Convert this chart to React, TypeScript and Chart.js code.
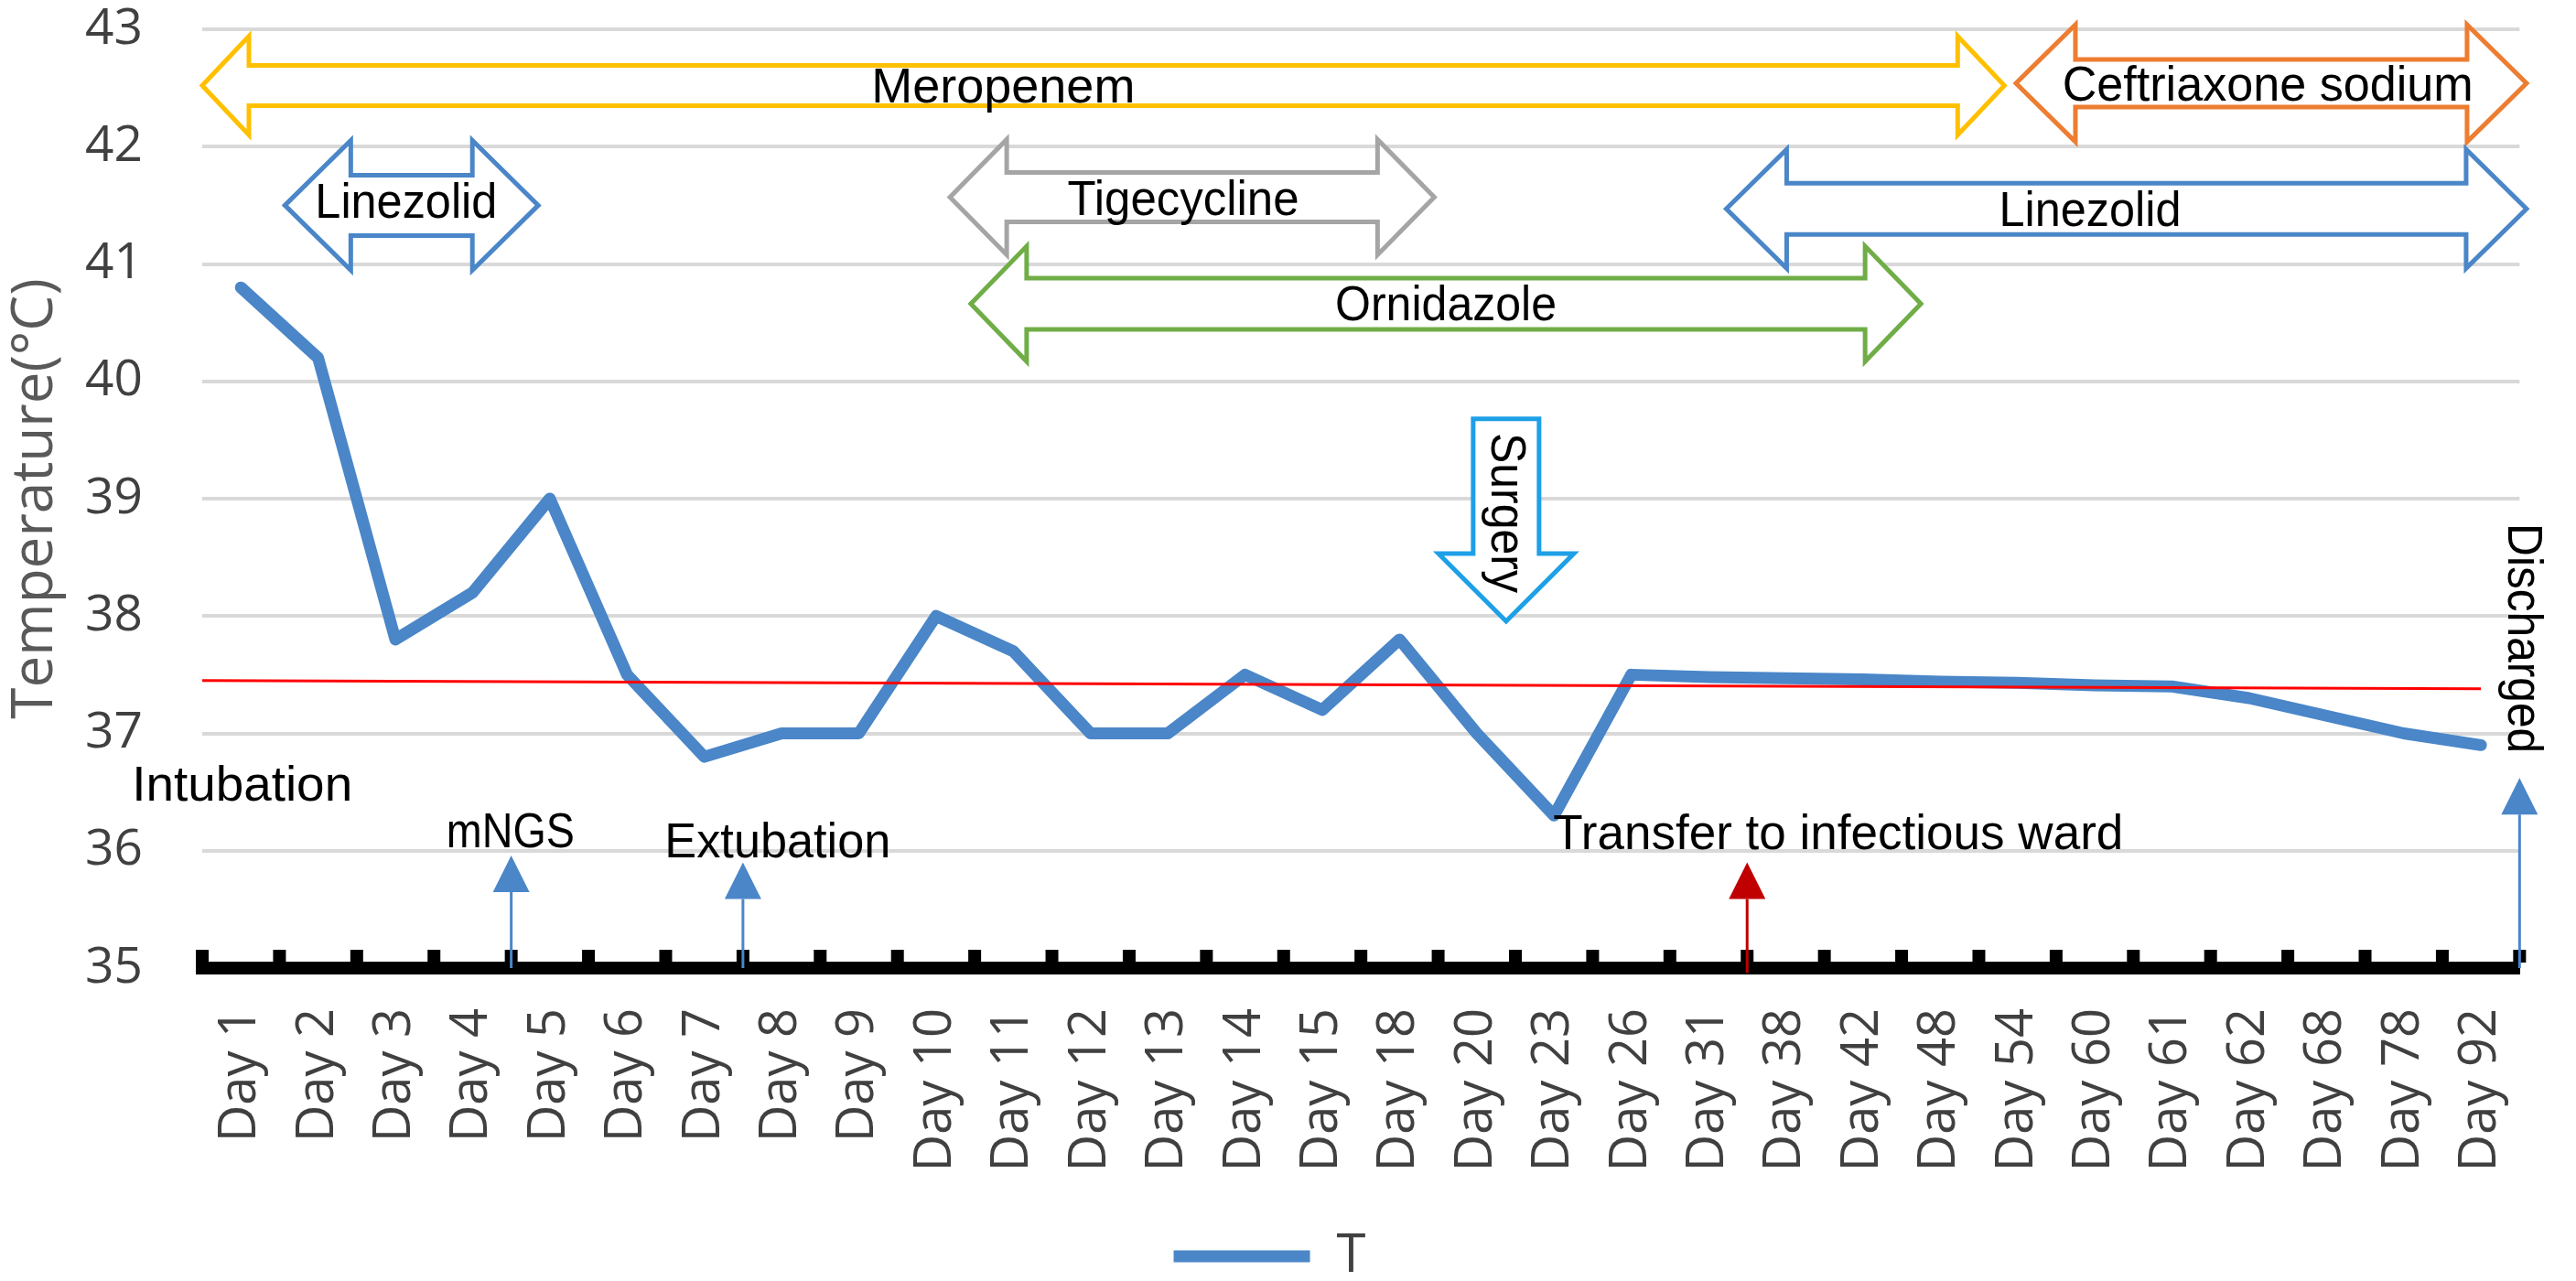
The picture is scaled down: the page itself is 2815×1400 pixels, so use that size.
import React, { useEffect, useRef } from 'react';
import { Chart, registerables } from 'chart.js';

Chart.register(...registerables);

// ---------- data ----------
const categories = [
  'Day 1', 'Day 2', 'Day 3', 'Day 4', 'Day 5', 'Day 6', 'Day 7', 'Day 8', 'Day 9', 'Day 10',
  'Day 11', 'Day 12', 'Day 13', 'Day 14', 'Day 15', 'Day 18', 'Day 20', 'Day 23', 'Day 26', 'Day 31',
  'Day 38', 'Day 42', 'Day 48', 'Day 54', 'Day 60', 'Day 61', 'Day 62', 'Day 68', 'Day 78', 'Day 92',
];
const temperatures = [
  40.8, 40.2, 37.8, 38.2, 39.0, 37.5, 36.8, 37.0, 37.0, 38.0,
  37.7, 37.0, 37.0, 37.5, 37.2, 37.8, 37.0, 36.3, 37.5, 37.48,
  37.47, 37.46, 37.44, 37.43, 37.41, 37.4, 37.3, 37.15, 37.0, 36.9,
];
const trendX = [-0.5, 29];
const trendY = [37.45, 37.38];
const yMin = 35;
const yMax = 43;
const yStep = 1;

// treatments (span in category-index units, level in °C)
const drugNames = ['Ornidazole', 'Meropenem', 'Ceftriaxone sodium', 'Linezolid', 'Tigecycline', 'Linezolid'];
const drugStart = [9.45, -0.5, 22.98, 0.57, 9.18, 19.23];
const drugEnd = [21.75, 22.83, 29.59, 3.85, 15.45, 29.59];
const drugLevel = [40.66, 42.52, 42.54, 41.5, 41.57, 41.47];

// events marked with small arrows (position between categories)
const eventNames = ['mNGS', 'Extubation', 'Transfer to infectious ward', 'Discharged'];
const eventPos = [3.5, 6.5, 19.5, 29.5];
const eventTip = [35.96, 35.9, 35.9, 36.62];
const otherNotes = ['Intubation', 'Surgery'];

// ---------- styles / annotation layout ----------
const drugStyle = [
  { color: '#70AD47', head: 61, hh: 63, sh: 28, tx: 15.6, ty: 40.52, tw: 242 },
  { color: '#FFC000', head: 51, hh: 54, sh: 22, tx: 9.87, ty: 42.38, tw: 288 },
  { color: '#ED7D31', head: 65, hh: 64, sh: 26, tx: 26.24, ty: 42.39, tw: 449 },
  { color: '#4A86C8', head: 72, hh: 71, sh: 33, tx: 2.14, ty: 41.39, tw: 199 },
  { color: '#A5A5A5', head: 62, hh: 63, sh: 27, tx: 12.2, ty: 41.42, tw: 253 },
  { color: '#4A86C8', head: 66, hh: 65, sh: 28, tx: 23.94, ty: 41.32, tw: 199 },
];
const eventStyle = [
  { color: '#4A86C8', tx: 3.49, ty: 36.03, tw: 140, rot: false, tail: 35 },
  { color: '#4A86C8', tx: 6.95, ty: 35.94, tw: 247, rot: false, tail: 35 },
  { color: '#C00000', tx: 20.68, ty: 36.01, tw: 623, rot: false, tail: 34.96 },
  { color: '#4A86C8', tx: 29.35, ty: 37.81, tw: 251, rot: true, tail: 35 },
];
const noteStyle = [
  { tx: 0.017, ty: 36.43, tw: 241, rot: false },
  { tx: 16.19, ty: 38.88, tw: 175, rot: true },
];
const surgery = { x: 16.38, top: 39.68, tip: 37.955, head: 74, hh: 74, sh: 36, color: '#1EA0E6' };

const ANN_FONT = '53px "Liberation Sans", Arial, sans-serif';

function drawFitText(ctx: CanvasRenderingContext2D, text: string, x: number, y: number, w: number, rot: boolean) {
  ctx.save();
  ctx.font = ANN_FONT;
  const m = ctx.measureText(text).width;
  ctx.translate(x, y);
  if (rot) ctx.rotate(Math.PI / 2);
  ctx.scale(w / m, 1);
  ctx.textAlign = 'center';
  ctx.textBaseline = 'alphabetic';
  ctx.fillStyle = '#000000';
  ctx.fillText(text, 0, 0);
  ctx.restore();
}

function dblArrow(ctx: CanvasRenderingContext2D, x0: number, x1: number, yc: number, hl: number, hh: number, sh: number, color: string) {
  ctx.save();
  ctx.beginPath();
  ctx.moveTo(x0, yc);
  ctx.lineTo(x0 + hl, yc - hh);
  ctx.lineTo(x0 + hl, yc - sh);
  ctx.lineTo(x1 - hl, yc - sh);
  ctx.lineTo(x1 - hl, yc - hh);
  ctx.lineTo(x1, yc);
  ctx.lineTo(x1 - hl, yc + hh);
  ctx.lineTo(x1 - hl, yc + sh);
  ctx.lineTo(x0 + hl, yc + sh);
  ctx.lineTo(x0 + hl, yc + hh);
  ctx.closePath();
  ctx.fillStyle = '#ffffff';
  ctx.fill();
  ctx.lineWidth = 5;
  ctx.lineJoin = 'miter';
  ctx.strokeStyle = color;
  ctx.stroke();
  ctx.restore();
}

const annotationPlugin = {
  id: 'annotations',
  afterDatasetsDraw(chart: any) {
    const ctx: CanvasRenderingContext2D = chart.ctx;
    const xs = chart.scales.x;
    const ys = chart.scales.y;
    const X = (v: number) => xs.getPixelForValue(v);
    const Y = (v: number) => ys.getPixelForValue(v);
    const area = chart.chartArea;

    // axis tick marks (between categories)
    ctx.save();
    ctx.fillStyle = '#000000';
    for (let i = 0; i <= categories.length; i++) {
      const px = X(i - 0.5);
      ctx.fillRect(px - 7, area.bottom - 20, 14, 14);
    }
    ctx.restore();

    // treatment arrows
    drugNames.forEach((name, i) => {
      const s = drugStyle[i];
      dblArrow(ctx, X(drugStart[i]), X(drugEnd[i]), Y(drugLevel[i]), s.head, s.hh, s.sh, s.color);
      drawFitText(ctx, name, X(s.tx), Y(s.ty), s.tw, false);
    });

    // surgery down arrow
    {
      const cx = X(surgery.x);
      const top = Y(surgery.top);
      const tip = Y(surgery.tip);
      const base = tip - surgery.head;
      ctx.save();
      ctx.beginPath();
      ctx.moveTo(cx - surgery.sh, top);
      ctx.lineTo(cx + surgery.sh, top);
      ctx.lineTo(cx + surgery.sh, base);
      ctx.lineTo(cx + surgery.hh, base);
      ctx.lineTo(cx, tip);
      ctx.lineTo(cx - surgery.hh, base);
      ctx.lineTo(cx - surgery.sh, base);
      ctx.closePath();
      ctx.fillStyle = '#ffffff';
      ctx.fill();
      ctx.lineWidth = 5;
      ctx.strokeStyle = surgery.color;
      ctx.stroke();
      ctx.restore();
    }

    // notes
    otherNotes.forEach((t, i) => {
      const s = noteStyle[i];
      drawFitText(ctx, t, X(s.tx), Y(s.ty), s.tw, s.rot);
    });

    // event arrows
    eventNames.forEach((t, i) => {
      const s = eventStyle[i];
      const px = X(eventPos[i]);
      const tip = Y(eventTip[i]);
      const base = tip + 40;
      ctx.save();
      ctx.strokeStyle = s.color;
      ctx.lineWidth = 3;
      ctx.beginPath();
      ctx.moveTo(px, Y(s.tail));
      ctx.lineTo(px, base);
      ctx.stroke();
      ctx.fillStyle = s.color;
      ctx.beginPath();
      ctx.moveTo(px, tip);
      ctx.lineTo(px + 20, base);
      ctx.lineTo(px - 20, base);
      ctx.closePath();
      ctx.fill();
      ctx.restore();
      drawFitText(ctx, t, X(s.tx), Y(s.ty), s.tw, s.rot);
    });
  },
};

export default function App() {
  const ref = useRef<HTMLCanvasElement | null>(null);

  useEffect(() => {
    if (!ref.current) return;
    const chart = new Chart(ref.current, {
      type: 'line',
      data: {
        labels: categories,
        datasets: [
          {
            label: 'T',
            data: temperatures,
            borderColor: '#4A86C8',
            backgroundColor: '#4A86C8',
            borderWidth: 13,
            borderJoinStyle: 'round',
            borderCapStyle: 'round',
            pointRadius: 0,
            tension: 0,
            order: 1,
          },
          {
            label: 'trend',
            data: trendX.map((x, i) => ({ x, y: trendY[i] })),
            xAxisID: 'xt',
            borderColor: '#FF0000',
            borderWidth: 3,
            pointRadius: 0,
            tension: 0,
            order: 0,
          } as any,
        ],
      },
      options: {
        animation: false,
        responsive: false,
        layout: { padding: { left: 0, right: 40, top: 32, bottom: 0 } },
        plugins: {
          legend: {
            display: true,
            position: 'bottom',
            labels: {
              filter: (item: any) => item.datasetIndex === 0,
              usePointStyle: true,
              pointStyle: 'line',
              pointStyleWidth: 149,
              color: '#404040',
              font: { family: '"Open Sans", sans-serif', size: 58 },
              padding: 10,
            },
          },
          tooltip: { enabled: false },
        },
        scales: {
          x: {
            type: 'category',
            offset: true,
            grid: { display: false },
            border: { display: true, color: '#000000', width: 14 },
            ticks: {
              autoSkip: false,
              minRotation: 90,
              maxRotation: 90,
              padding: 36,
              color: '#404040',
              font: { family: '"Open Sans", sans-serif', size: 56 },
            },
            afterFit: (s: any) => { s.height = 276; },
          },
          xt: { type: 'linear', display: false, min: -0.5, max: 29.5 },
          y: {
            min: yMin,
            max: yMax,
            ticks: {
              stepSize: yStep,
              padding: 65,
              color: '#404040',
              font: { family: '"Open Sans", sans-serif', size: 55 },
            },
            grid: { color: '#D9D9D9', lineWidth: 4, drawTicks: false },
            border: { display: false },
            title: {
              display: true,
              text: 'Temperature(°C)',
              color: '#595959',
              font: { family: '"Open Sans", sans-serif', size: 62 },
              padding: { top: 2, bottom: 0 },
            },
            afterFit: (s: any) => { s.width = 221; s.paddingTop = 0; s.paddingBottom = 0; },
          },
        },
      } as any,
      plugins: [annotationPlugin],
    });
    return () => chart.destroy();
  }, []);

  return (
    <div style={{ position: 'fixed', left: 0, top: 0, width: 2815, height: 1412, background: '#ffffff' }}>
      <canvas ref={ref} width={2815} height={1412} style={{ width: 2815, height: 1412, display: 'block' }} />
    </div>
  );
}
